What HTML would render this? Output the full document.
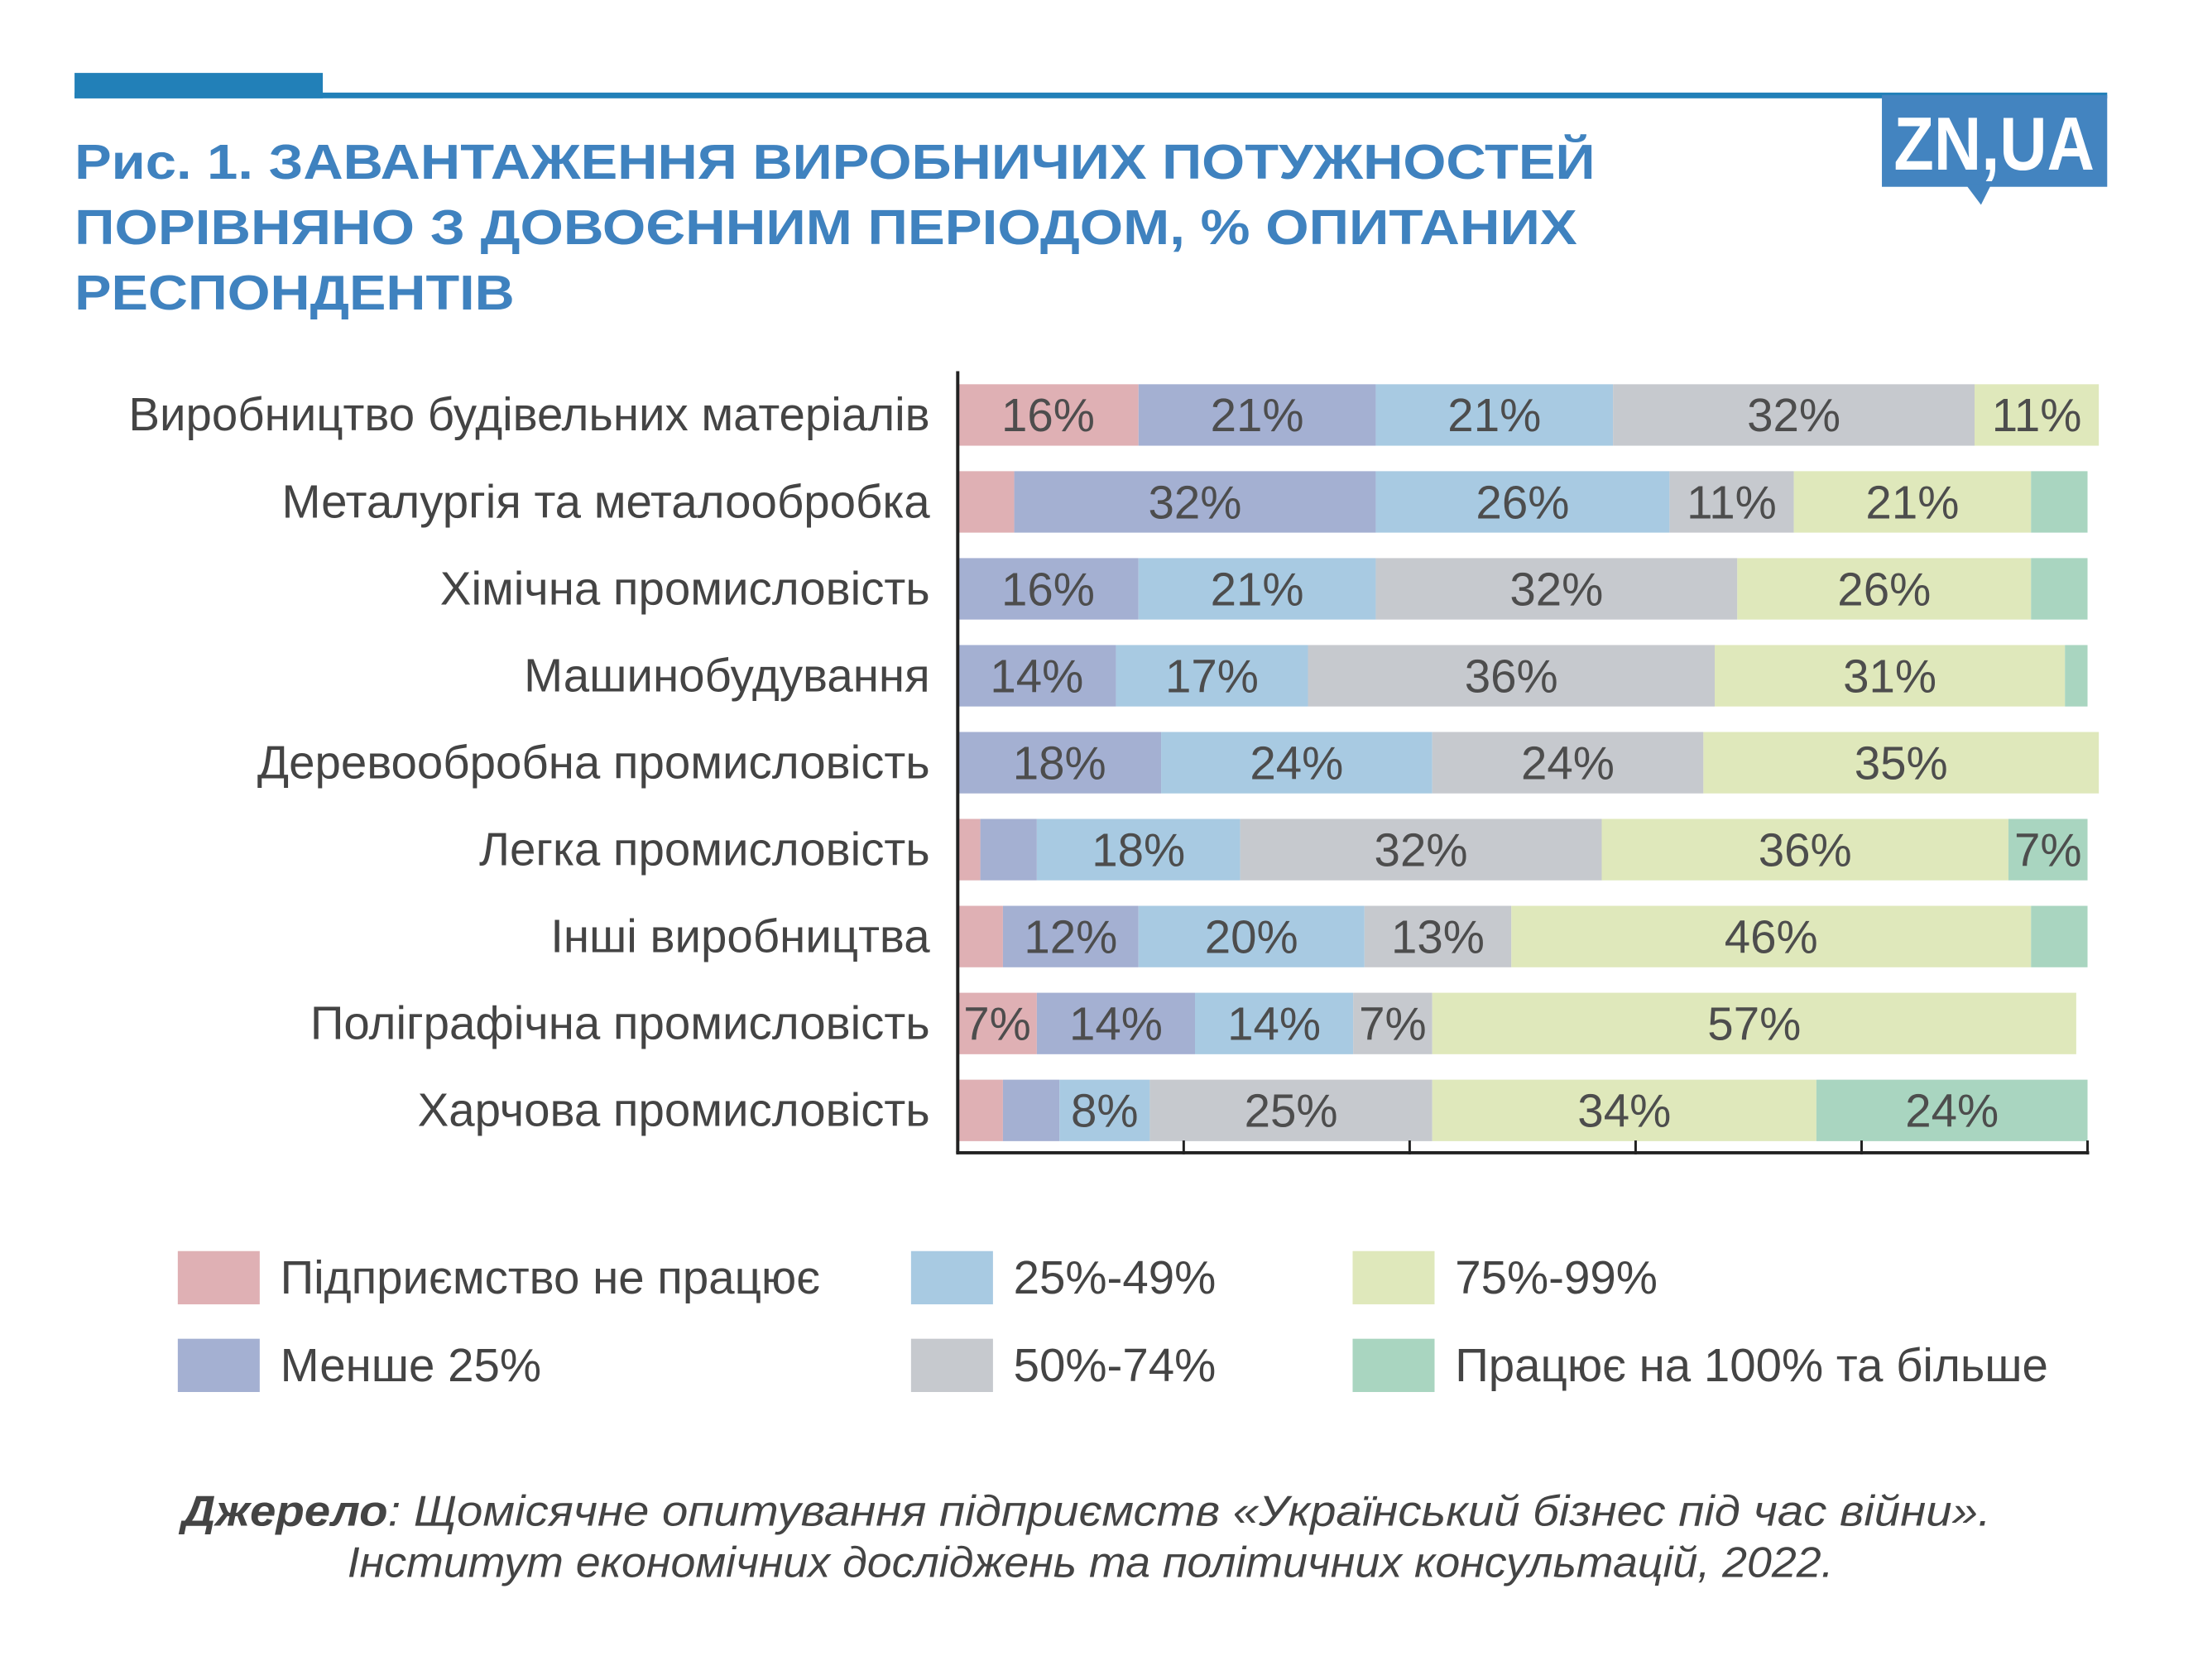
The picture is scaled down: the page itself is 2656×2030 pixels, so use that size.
<!DOCTYPE html>
<html><head><meta charset="utf-8"><style>
html,body{margin:0;padding:0;background:#fff;}
svg{display:block;font-family:"Liberation Sans","DejaVu Sans",sans-serif;}
</style></head><body>
<svg id="chart" width="2656" height="2030" viewBox="0 0 2656 2030" xmlns="http://www.w3.org/2000/svg">
<rect width="2656" height="2030" fill="#fff"/>
<g transform="scale(0.99)">
<rect x="91" y="89" width="303" height="31" fill="#2280b8"/>
<rect x="91" y="113" width="2481" height="7" fill="#2280b8"/>
<g>
<rect x="2297" y="116" width="275" height="112" fill="#4384c0"/>
<polygon points="2400,226 2430,226 2418,250" fill="#4384c0"/>
<text x="2434" y="207" font-size="92" font-weight="bold" fill="#fff" text-anchor="middle" textLength="245" lengthAdjust="spacingAndGlyphs">ZN,UA</text>
</g>
<g fill="#3f82bf" font-weight="bold" font-size="60">
<text x="91" y="218" textLength="1856" lengthAdjust="spacingAndGlyphs">Рис. 1. ЗАВАНТАЖЕННЯ ВИРОБНИЧИХ ПОТУЖНОСТЕЙ</text>
<text x="91" y="298" textLength="1834" lengthAdjust="spacingAndGlyphs">ПОРІВНЯНО З ДОВОЄННИМ ПЕРІОДОМ, % ОПИТАНИХ</text>
<text x="91" y="378" textLength="537" lengthAdjust="spacingAndGlyphs">РЕСПОНДЕНТІВ</text>
</g>
<g id="plot"></g>
<g id="legend"></g>
<g font-style="italic" font-size="52" fill="#444" text-anchor="middle">
<text x="1326" y="1862" textLength="2208" lengthAdjust="spacingAndGlyphs"><tspan font-weight="bold">Джерело</tspan>: Щомісячне опитування підприємств «Український бізнес під час війни».</text>
<text x="1331" y="1925" textLength="1814" lengthAdjust="spacingAndGlyphs">Інститут економічних досліджень та політичних консультацій, 2022.</text>
</g>
</g>
</svg>
<script>
const categories = ["Виробництво будівельних матеріалів","Металургія та металообробка","Хімічна промисловість","Машинобудування","Деревообробна промисловість","Легка промисловість","Інші виробництва","Поліграфічна промисловість","Харчова промисловість"];
const seriesNames = ["Підприємство не працює","Менше 25%","25%-49%","50%-74%","75%-99%","Працює на 100% та більше"];
const sNotWorking = [16,5,0,0,0,2,4,7,4];
const sLess25 = [21,32,16,14,18,5,12,14,5];
const s25to49 = [21,26,21,17,24,18,20,14,8];
const s50to74 = [32,11,32,36,24,32,13,7,25];
const s75to99 = [11,21,26,31,35,36,46,57,34];
const s100 = [0,5,5,2,0,7,5,0,24];
const xTicks = [0,20,40,60,80,100];
const colors = ["#dfb0b4","#a4b0d2","#a8cae2","#c6c9ce","#dfe8bb","#a9d5c0"];
const series = [sNotWorking,sLess25,s25to49,s50to74,s75to99,s100];
const NS="http://www.w3.org/2000/svg";
const X0=1169, X1=2548, rowTop=469, pitch=106.1, barH=75;
function xs(v){return X0+(X1-X0)*v/100;}
function yr(i){return rowTop+i*pitch;}
function mk(tag,attrs,parent){const e=document.createElementNS(NS,tag);for(const k in attrs)e.setAttribute(k,attrs[k]);parent.appendChild(e);return e;}
const plot=document.getElementById('plot');
categories.forEach((c,i)=>{
  const t=mk('text',{x:1135,y:yr(i)+barH/2+19,'font-size':57,fill:'#444','text-anchor':'end'},plot);
  
  
  t.textContent=c;
  let acc=0;
  series.forEach((s,j)=>{
    const v=s[i];
    if(v>0){
      const r=mk('rect',{x:xs(acc),y:yr(i),width:xs(acc+v)-xs(acc),height:barH,fill:colors[j]},plot);
      
      
      if(v>=7){
        const l=mk('text',{x:(xs(acc)+xs(acc+v))/2,y:yr(i)+barH/2+20,'font-size':57,fill:'#4d4d4d','text-anchor':'middle'},plot);
        
        
        l.textContent=v+'%';
      }
    }
    acc+=v;
  });
});
const ax=mk('line',{x1:X0,y1:453,x2:X0,y2:1407,stroke:'#222','stroke-width':4},plot);


const bx=mk('line',{x1:X0-2,y1:1407,x2:X1+2,y2:1407,stroke:'#222','stroke-width':4},plot);


xTicks.forEach(t=>{
  const k=mk('line',{x1:xs(t),y1:1392,x2:xs(t),y2:1409,stroke:'#222','stroke-width':3},plot);
  
  
});
const leg=document.getElementById('legend');
const lx=[217,1112,1651], ly=[1527,1634];
seriesNames.forEach((n,j)=>{
  const col=Math.floor(j/2), row=j%2;
  const g=mk('g',{},leg);
  
  
  mk('rect',{x:lx[col],y:ly[row],width:100,height:65,fill:colors[j]},g);
  const t=mk('text',{x:lx[col]+125,y:ly[row]+52,'font-size':57,fill:'#444'},g);
  t.textContent=n;
});
</script>
</body></html>
